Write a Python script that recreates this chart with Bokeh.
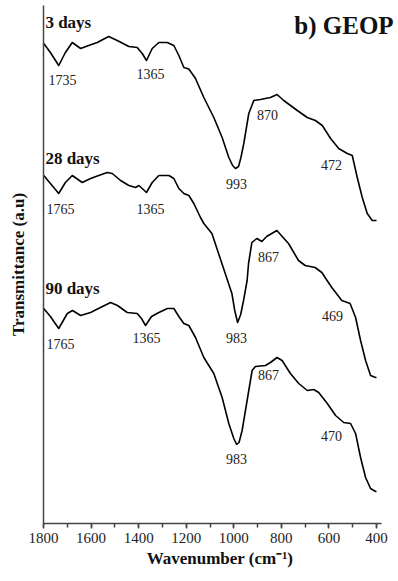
from bokeh.plotting import figure
from bokeh.models import Range1d, ColumnDataSource, Label, SingleIntervalTicker
from bokeh.core.properties import value
from bokeh.embed import file_html
from bokeh.resources import INLINE

# ---- data (transmittance in arbitrary units, curves already offset) ----
wn_3d = [1799, 1771, 1736, 1708, 1679, 1644, 1610, 1574, 1526, 1490, 1441, 1406, 1385,
         1367, 1343, 1315, 1280, 1252, 1231, 1210, 1189, 1161, 1126, 1084, 1049, 1021,
         1005, 993, 980, 970, 958, 937, 916, 888, 846, 818, 790, 733, 691, 657, 628, 593,
         559, 523, 502, 481, 460, 439, 418, 400]
t_3d = [4.80, 4.71, 4.58, 4.71, 4.81, 4.75, 4.78, 4.81, 4.87, 4.83, 4.77, 4.76, 4.70,
        4.63, 4.75, 4.81, 4.81, 4.78, 4.68, 4.56, 4.545, 4.45, 4.26, 4.06, 3.86, 3.66,
        3.58, 3.55, 3.57, 3.66, 3.80, 4.10, 4.23, 4.24, 4.26, 4.29, 4.23, 4.13, 4.06, 4.03, 3.98, 3.85,
        3.75, 3.70, 3.68, 3.46, 3.26, 3.10, 3.03, 3.03]

wn_28d = [1799, 1771, 1736, 1708, 1679, 1637, 1602, 1568, 1532, 1511, 1476, 1441, 1413,
          1399, 1385, 1367, 1343, 1315, 1273, 1252, 1231, 1210, 1189, 1168, 1140, 1126,
          1092, 1050, 1008, 996, 984, 971, 959, 944, 938, 924, 903, 882, 862, 819, 770,
          728, 700, 658, 630, 588, 546, 511, 488, 467, 446, 425, 404, 400]
t_28d = [3.48, 3.40, 3.30, 3.41, 3.48, 3.41, 3.45, 3.48, 3.51, 3.50, 3.43, 3.38, 3.36,
         3.38, 3.35, 3.31, 3.41, 3.48, 3.48, 3.45, 3.35, 3.30, 3.28, 3.20, 3.06, 3.00,
         2.90, 2.60, 2.30, 2.13, 2.01, 2.09, 2.23, 2.43, 2.60, 2.81, 2.85, 2.82, 2.87, 2.93, 2.80,
         2.63, 2.58, 2.56, 2.51, 2.36, 2.23, 2.20, 2.06, 1.83, 1.63, 1.48, 1.46, 1.46]

wn_90d = [1799, 1771, 1736, 1700, 1678, 1644, 1602, 1569, 1518, 1489, 1448, 1406, 1388,
          1371, 1346, 1315, 1279, 1252, 1231, 1210, 1189, 1161, 1126, 1084, 1049, 1021,
          1000, 988, 978, 965, 944, 923, 909, 867, 846, 818, 797, 762, 727, 691, 664, 643, 607,
          572, 538, 509, 488, 467, 446, 425, 404, 400]
t_90d = [2.15, 2.07, 1.95, 2.10, 2.13, 2.08, 2.11, 2.15, 2.21, 2.18, 2.11, 2.10, 2.05,
         1.98, 2.07, 2.11, 2.15, 2.15, 2.07, 2.00, 1.98, 1.86, 1.66, 1.50, 1.26, 1.00,
         0.85, 0.79, 0.81, 0.93, 1.23, 1.53, 1.57, 1.58, 1.61, 1.66, 1.63, 1.50, 1.40, 1.33, 1.34, 1.31, 1.20,
         1.08, 1.01, 1.00, 0.90, 0.66, 0.46, 0.35, 0.32, 0.32]

series_names = ["3 days", "28 days", "90 days"]
series_label_y = [5.01, 3.65, 2.35]

peak_text = ["1735", "1365", "993", "870", "472",
             "1765", "1365", "983", "867", "469",
             "1765", "1365", "983", "867", "470"]
peak_x = [1720, 1350, 989, 858, 589,
          1729, 1350, 989, 854, 585,
          1729, 1367, 989, 854, 589]
peak_y = [4.44, 4.50, 3.40, 4.09, 3.59,
          3.15, 3.15, 1.86, 2.67, 2.08,
          1.80, 1.86, 0.65, 1.49, 0.88]

SERIF = "Liberation Serif"

p = figure(width=398, height=581, output_backend="svg", toolbar_location=None,
           x_range=Range1d(1800, 316), y_range=Range1d(0, 5.18),
           min_border_left=43, min_border_right=2, min_border_top=5, min_border_bottom=58)
p.outline_line_color = None
p.xgrid.grid_line_color = None
p.ygrid.grid_line_color = None
p.background_fill_color = "white"
p.border_fill_color = "white"

for wn, t in [(wn_3d, t_3d), (wn_28d, t_28d), (wn_90d, t_90d)]:
    p.line(wn, t, line_color="black", line_width=1.6, line_join="round")

# x axis
xa = p.xaxis[0]
xa.bounds = (1800, 379)
xa.ticker = SingleIntervalTicker(interval=200, num_minor_ticks=2)
xa.axis_line_color = "#444444"
xa.axis_line_width = 1.5
xa.major_tick_line_color = "#444444"
xa.minor_tick_line_color = "#444444"
xa.major_tick_line_width = 1.5
xa.minor_tick_line_width = 1.5
xa.major_tick_in = 0
xa.major_tick_out = 5
xa.minor_tick_in = 0
xa.minor_tick_out = 4
xa.major_label_text_font = SERIF
xa.major_label_text_font_size = "15px"
xa.major_label_text_color = "#222222"
xa.major_label_standoff = 4
xa.axis_label = "Wavenumber (cm\u207b\u00b9)"
xa.axis_label_text_font = SERIF
xa.axis_label_text_font_size = "17px"
xa.axis_label_text_font_style = "bold"
xa.axis_label_text_color = "#111111"
xa.axis_label_standoff = 3

# y axis
ya = p.yaxis[0]
ya.ticker = []
ya.major_tick_out = 0
ya.major_tick_in = 0
ya.minor_tick_out = 0
ya.minor_tick_in = 0
ya.major_label_text_font_size = "0px"
ya.axis_line_color = "#444444"
ya.axis_line_width = 1.5
ya.axis_label = "Transmittance (a.u)"
ya.axis_label_text_font = SERIF
ya.axis_label_text_font_size = "17px"
ya.axis_label_text_font_style = "bold"
ya.axis_label_text_color = "#111111"
ya.axis_label_standoff = 16

# peak labels
src = ColumnDataSource(dict(x=peak_x, y=peak_y, text=peak_text))
p.text(x="x", y="y", text="text", source=src, text_font=value(SERIF),
       text_font_size="14px", text_align="center", text_baseline="middle",
       text_color="#222222")

# series names
for name, yy in zip(series_names, series_label_y):
    p.add_layout(Label(x=1792, y=yy, text=name, text_font=SERIF, text_font_size="17px",
                       text_font_style="bold", text_align="left", text_baseline="middle",
                       text_color="#111111"))

p.add_layout(Label(x=328, y=4.98, text="b) GEOP", text_font=SERIF, text_font_size="25px",
                   text_font_style="bold", text_align="right", text_baseline="middle",
                   text_color="#111111"))

open("out.html", "w").write(file_html(p, INLINE))
